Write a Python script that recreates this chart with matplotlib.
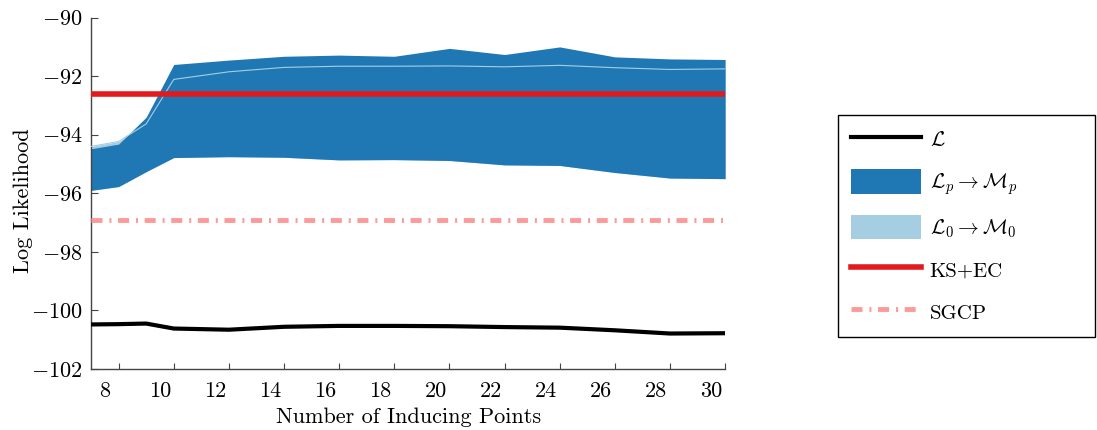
import matplotlib
matplotlib.use('Agg')
import matplotlib.pyplot as plt
import numpy as np
from matplotlib.lines import Line2D
from matplotlib.patches import Patch

plt.rcParams['font.family'] = 'serif'
plt.rcParams['font.serif'] = ['cmr10']
plt.rcParams['mathtext.fontset'] = 'cm'
plt.rcParams['axes.formatter.use_mathtext'] = True
plt.rcParams['font.size'] = 16

# inducing points (plotted half a unit off the tick labels, as in the original)
x = [7.5, 8.5, 9.5, 10.5, 12.5, 14.5, 16.5, 18.5, 20.5, 22.5, 24.5, 26.5, 28.5, 30.5]
L = [-100.48, -100.47, -100.45, -100.62, -100.66, -100.56, -100.53, -100.53,
     -100.54, -100.57, -100.59, -100.68, -100.79, -100.78]
Lp_top = [-94.48, -94.32, -93.40, -91.60, -91.45, -91.32, -91.28, -91.32,
          -91.05, -91.26, -91.00, -91.34, -91.41, -91.43]
Lp_bot = [-95.90, -95.77, -95.26, -94.78, -94.75, -94.77, -94.86, -94.85,
          -94.88, -95.03, -95.05, -95.29, -95.48, -95.50]
L0_top = [-94.40, -94.23, -93.63, -92.11, -91.85, -91.70, -91.66, -91.66,
          -91.65, -91.68, -91.63, -91.71, -91.77, -91.75]
ks_ec = -92.62
sgcp = -96.9

tick_marks = [8.5, 10.5, 12.5, 14.5, 16.5, 18.5, 20.5, 22.5, 24.5, 26.5, 28.5, 30.5]
tick_labels = [8, 10, 12, 14, 16, 18, 20, 22, 24, 26, 28, 30]

dark = '#1f78b4'
light = '#a6cee3'
red = '#e31a1c'
pink = '#fb9a99'
dashdot = (2.26, 1.43, 0.41, 1.37)

fig = plt.figure(figsize=(10.97, 4.30), dpi=100)
ax = fig.add_axes([0.083, 0.142, 0.578, 0.817])

ax.fill_between(x, Lp_bot, L0_top, color=light, lw=0, zorder=1)
ax.fill_between(x, Lp_bot, Lp_top, color=dark, lw=0, zorder=2)
ax.plot(x, L0_top, color=light, lw=0.8, zorder=3)
ax.plot(x, L, color='black', lw=3, zorder=4, solid_capstyle='butt')
ax.axhline(ks_ec, color=red, lw=4, zorder=5)
ax.axhline(sgcp, color=pink, lw=3.5, zorder=5, dashes=dashdot, dash_capstyle='butt')

ax.set_xlim(7.5, 30.5)
ax.set_ylim(-102, -90)
ax.set_yticks(np.arange(-102, -89, 2))
ax.set_xticks(tick_labels)
ax.set_xticklabels([str(t) for t in tick_labels])
ax.set_xticks(tick_marks, minor=True)
ax.tick_params(axis='x', which='major', length=0, pad=9)
ax.tick_params(axis='x', which='minor', direction='in', length=4, width=0.8, color='#444444')
ax.tick_params(axis='y', direction='in', length=5, width=0.8, color='#444444', pad=6)

for s in ['top', 'right']:
    ax.spines[s].set_visible(False)
for s in ['left', 'bottom']:
    ax.spines[s].set_color('#444444')
    ax.spines[s].set_linewidth(1.0)

ax.set_xlabel('Number of Inducing Points', labelpad=5)
ax.set_ylabel('Log Likelihood')
ax.yaxis.set_label_coords(-0.092, 0.48)

handles = [
    Line2D([], [], color='black', lw=3),
    Patch(facecolor=dark, edgecolor='none'),
    Patch(facecolor=light, edgecolor='none'),
    Line2D([], [], color=red, lw=4),
    Line2D([], [], color=pink, lw=3.5, dashes=dashdot, dash_capstyle='butt'),
]
labels = [r'$\mathcal{L}$', r'$\mathcal{L}_p \rightarrow \mathcal{M}_p$',
          r'$\mathcal{L}_0 \rightarrow \mathcal{M}_0$', 'KS+EC', 'SGCP']
leg = fig.legend(handles, labels, loc='upper left',
                 bbox_to_anchor=(0.764, 0.733, 0.234, 0.0), mode='expand',
                 frameon=True, fancybox=False, edgecolor='black', framealpha=1,
                 fontsize=15, handlelength=3.4, handleheight=1.4, labelspacing=0.87,
                 borderpad=0.6, handletextpad=0.4, borderaxespad=0)
leg.get_frame().set_linewidth(1.0)

fig.savefig('out.png', dpi=100)
